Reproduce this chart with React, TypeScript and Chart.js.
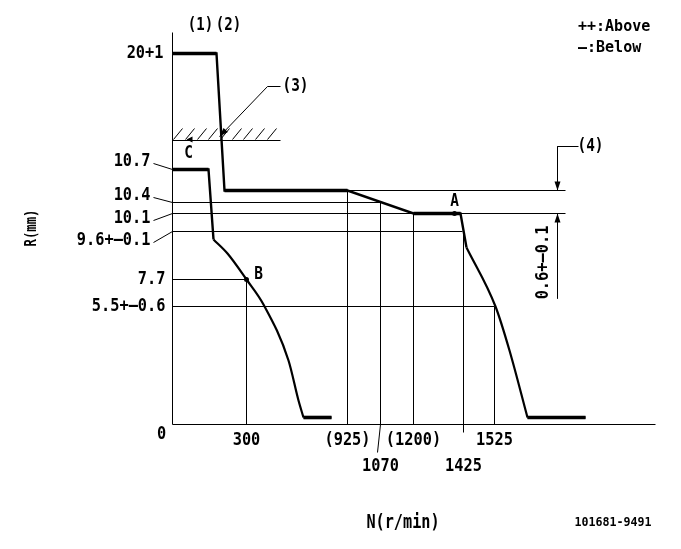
import { useEffect, useRef } from "react";
import { Chart, registerables } from "chart.js";

Chart.register(...registerables);

// Schematic governor diagram: positions are in diagram units along the N (x) and R (y) axes.
// Full-load / max-speed curve (2)
const curve2X = [0, 44, 52, 175, 241, 288, 294, 323, 337, 355, 413];
const curve2Y = [371, 371, 234, 234, 211, 211, 177, 118, 74, 7, 7];
// Idle curve (1)
const curve1X = [0, 36, 41, 55, 74, 91, 116, 126, 131, 159];
const curve1Y = [255, 255, 185, 171, 145, 120, 64, 24, 7, 7];

// N axis tick labels (r/min) and their positions
const nTickLabels = ["300", "(925)", "1070", "(1200)", "1425", "1525"];
const nTickPos = [74, 175, 208, 241, 291, 322];
const nTickRow = [0, 0, 1, 0, 1, 0];
const nTickTop = [145, 234, 222, 211, 193, 118];

// R axis labels (mm) and their positions
const rTickLabels = ["20+1", "10.7", "10.4", "10.1", "9.6+—0.1", "7.7", "5.5+—0.6"];
const rTickPos = [371, 255, 222, 211, 193, 145, 118];
const rLineEnd = [0, 0, 208, 393, 290, 74, 322];
const rLeader = [false, true, true, true, true, false, false];

// Hatched limit (3)
const hatchLevel = 284;
const hatchEnd = 108;
const hatchX = [1, 13, 25, 36, 48, 60, 71, 83, 95];

// Points A, B, C
const pointLabels = ["A", "B", "C"];
const pointX = [282, 74, 17];
const pointY = [211, 145, 285];

// Upper reference level for (4)
const upperLevel = 234;
const dimX = 385;

const X_MAX = 483;
const Y_MAX = 392;

type Seg = [number, number, number, number];

function App() {
  const ref = useRef<HTMLCanvasElement | null>(null);

  useEffect(() => {
    if (!ref.current) return;

    const thin: Seg[] = [];
    thin.push([0, 0, 0, Y_MAX]);
    thin.push([0, 0, X_MAX, 0]);
    thin.push([0, hatchLevel, hatchEnd, hatchLevel]);
    hatchX.forEach((hx) => thin.push([hx, hatchLevel + 1, hx + 9, hatchLevel + 12]));
    rTickPos.forEach((v, i) => {
      if (rLineEnd[i] > 0) thin.push([0, v, rLineEnd[i], v]);
    });
    thin.push([175, upperLevel, dimX + 8, upperLevel]);
    nTickPos.forEach((v, i) => {
      thin.push([v, nTickRow[i] === 1 && v > 250 ? -8 : 0, v, nTickTop[i]]);
    });
    // 1070 leader
    thin.push([208, 0, 205, -28]);
    // (4) dimension
    thin.push([dimX, 278, dimX, upperLevel]);
    thin.push([dimX, 211, dimX, 126]);
    thin.push([dimX, 278, dimX + 21, 278]);
    // (3) leader
    thin.push([47, 288, 95, 338]);
    thin.push([95, 338, 108, 338]);

    const datasets: any[] = [];
    thin.forEach((s) =>
      datasets.push({
        data: [
          { x: s[0], y: s[1] },
          { x: s[2], y: s[3] },
        ],
        borderColor: "#000",
        borderWidth: 1,
      })
    );
    const addCurve = (xs: number[], ys: number[], smoothFrom: number, smoothTo: number) => {
      const pts = xs.map((x, i) => ({ x, y: ys[i] }));
      datasets.push({
        data: pts.slice(0, smoothFrom + 1),
        borderColor: "#000",
        borderWidth: 2.4,
      });
      datasets.push({
        data: pts.slice(smoothFrom, smoothTo + 1),
        borderColor: "#000",
        borderWidth: 2.2,
        cubicInterpolationMode: "monotone",
      });
      datasets.push({
        data: pts.slice(smoothTo),
        borderColor: "#000",
        borderWidth: 2.4,
      });
      for (let i = 0; i < xs.length - 1; i++) {
        if (ys[i] === ys[i + 1]) {
          datasets.push({
            data: [pts[i], pts[i + 1]],
            borderColor: "#000",
            borderWidth: 3.6,
          });
        }
      }
    };
    addCurve(curve2X, curve2Y, 6, 9);
    addCurve(curve1X, curve1Y, 2, 8);

    const textPlugin = {
      id: "diagramText",
      afterDatasetsDraw(chart: any) {
        const ctx: CanvasRenderingContext2D = chart.ctx;
        const xs = chart.scales.x;
        const ys = chart.scales.y;
        const px = (v: number) => xs.getPixelForValue(v);
        const py = (v: number) => ys.getPixelForValue(v);
        const text = (
          s: string,
          X: number,
          Y: number,
          size: number,
          sx: number,
          align: CanvasTextAlign = "center",
          rot = 0
        ) => {
          ctx.save();
          ctx.translate(X, Y);
          if (rot) ctx.rotate(rot);
          ctx.scale(sx, 1);
          ctx.font = `bold ${size}px 'DejaVu Sans Mono'`;
          ctx.textAlign = align;
          ctx.textBaseline = "middle";
          ctx.fillStyle = "#000";
          ctx.fillText(s, 0, 0);
          ctx.restore();
        };
        const tri = (pts: number[][]) => {
          ctx.save();
          ctx.fillStyle = "#000";
          ctx.beginPath();
          ctx.moveTo(pts[0][0], pts[0][1]);
          pts.slice(1).forEach((p) => ctx.lineTo(p[0], p[1]));
          ctx.closePath();
          ctx.fill();
          ctx.restore();
        };
        const x0 = px(0);
        const yb = py(0);

        // N tick labels
        text("0", x0 - 11, yb + 10, 18, 0.85);
        nTickLabels.forEach((l, i) => {
          text(l, px(nTickPos[i]), yb + (nTickRow[i] ? 42 : 16), 18, 0.85);
        });

        // R tick labels
        const dy = [0, -8, -7, 5, 9, 0, 0];
        const gap = [9, 22, 22, 22, 22, 7, 7];
        rTickLabels.forEach((l, i) => {
          const ly = py(rTickPos[i]) + dy[i];
          text(l, x0 - gap[i], ly, 18, 0.85, "right");
          if (rLeader[i]) {
            ctx.save();
            ctx.strokeStyle = "#000";
            ctx.lineWidth = 1;
            ctx.beginPath();
            ctx.moveTo(x0 - 19, ly + 2);
            ctx.lineTo(x0, py(rTickPos[i]));
            ctx.stroke();
            ctx.restore();
          }
        });

        // Curve numbers
        text("(1)", px(28), py(Y_MAX) - 7, 18, 0.78);
        text("(2)", px(56), py(Y_MAX) - 7, 18, 0.78);
        text("(3)", px(hatchEnd) + 15, py(338), 18, 0.8);
        text("(4)", px(dimX + 21) + 12, py(278), 18, 0.8);

        // Points A, B, C
        text(pointLabels[0], px(pointX[0]), py(pointY[0]) - 12, 17, 0.85);
        text(pointLabels[1], px(pointX[1]) + 12, py(pointY[1]) - 5, 17, 0.85);
        text(pointLabels[2], px(pointX[2]) - 1, py(pointY[2]) + 14, 17, 0.85);
        ctx.save();
        ctx.fillStyle = "#000";
        ctx.beginPath();
        ctx.arc(px(pointX[0]), py(pointY[0]), 2.5, 0, Math.PI * 2);
        ctx.fill();
        ctx.beginPath();
        ctx.arc(px(pointX[1]), py(pointY[1]), 2.5, 0, Math.PI * 2);
        ctx.fill();
        ctx.restore();
        const cx = px(pointX[2]);
        const cy = py(pointY[2]);
        tri([
          [cx - 3, cy],
          [cx + 3, cy - 3],
          [cx + 3, cy + 3],
        ]);

        // (4) arrows
        const dx = px(dimX);
        tri([
          [dx, py(upperLevel)],
          [dx - 3, py(upperLevel) - 9],
          [dx + 3, py(upperLevel) - 9],
        ]);
        tri([
          [dx, py(211)],
          [dx - 3, py(211) + 9],
          [dx + 3, py(211) + 9],
        ]);
        // (3) arrow
        const ax = px(47);
        const ay = py(288);
        const ang = Math.atan2(py(338) - ay, px(95) - ax);
        const L = 9;
        const W = 3;
        tri([
          [ax, ay],
          [ax + L * Math.cos(ang) - W * Math.sin(ang), ay + L * Math.sin(ang) + W * Math.cos(ang)],
          [ax + L * Math.cos(ang) + W * Math.sin(ang), ay + L * Math.sin(ang) - W * Math.cos(ang)],
        ]);

        // Tolerance text for (4)
        text("0.6+—0.1", px(371), py(162), 18, 0.85, "center", -Math.PI / 2);

        // Axis titles & notes
        text("R(mm)", 32, 228, 15, 0.82, "center", -Math.PI / 2);
        text("N(r/min)", 403, 523, 19, 0.8);
        text("101681-9491", 613, 523, 12, 0.97);
        text("++:Above", 578, 27, 15, 1.0, "left");
        text("—:Below", 578, 48, 15, 1.0, "left");
      },
    };

    const chart = new Chart(ref.current, {
      type: "scatter",
      data: { datasets },
      options: {
        animation: false,
        responsive: false,
        devicePixelRatio: 1,
        events: [],
        layout: { padding: { left: 172.5, right: 25.5, top: 32.5, bottom: 124.5 } },
        datasets: {
          scatter: {
            showLine: true,
            pointRadius: 0,
            clip: false as any,
            tension: 0,
          } as any,
        },
        plugins: {
          legend: { display: false },
          title: { display: false },
          tooltip: { enabled: false },
        },
        scales: {
          x: { type: "linear", min: 0, max: X_MAX, display: false },
          y: { type: "linear", min: 0, max: Y_MAX, display: false },
        },
      },
      plugins: [textPlugin],
    });
    return () => chart.destroy();
  }, []);

  return (
    <div style={{ position: "fixed", left: 0, top: 0, width: 681, height: 549, background: "#fff" }}>
      <canvas ref={ref} width={681} height={549} style={{ width: 681, height: 549 }} />
    </div>
  );
}

export default App;
